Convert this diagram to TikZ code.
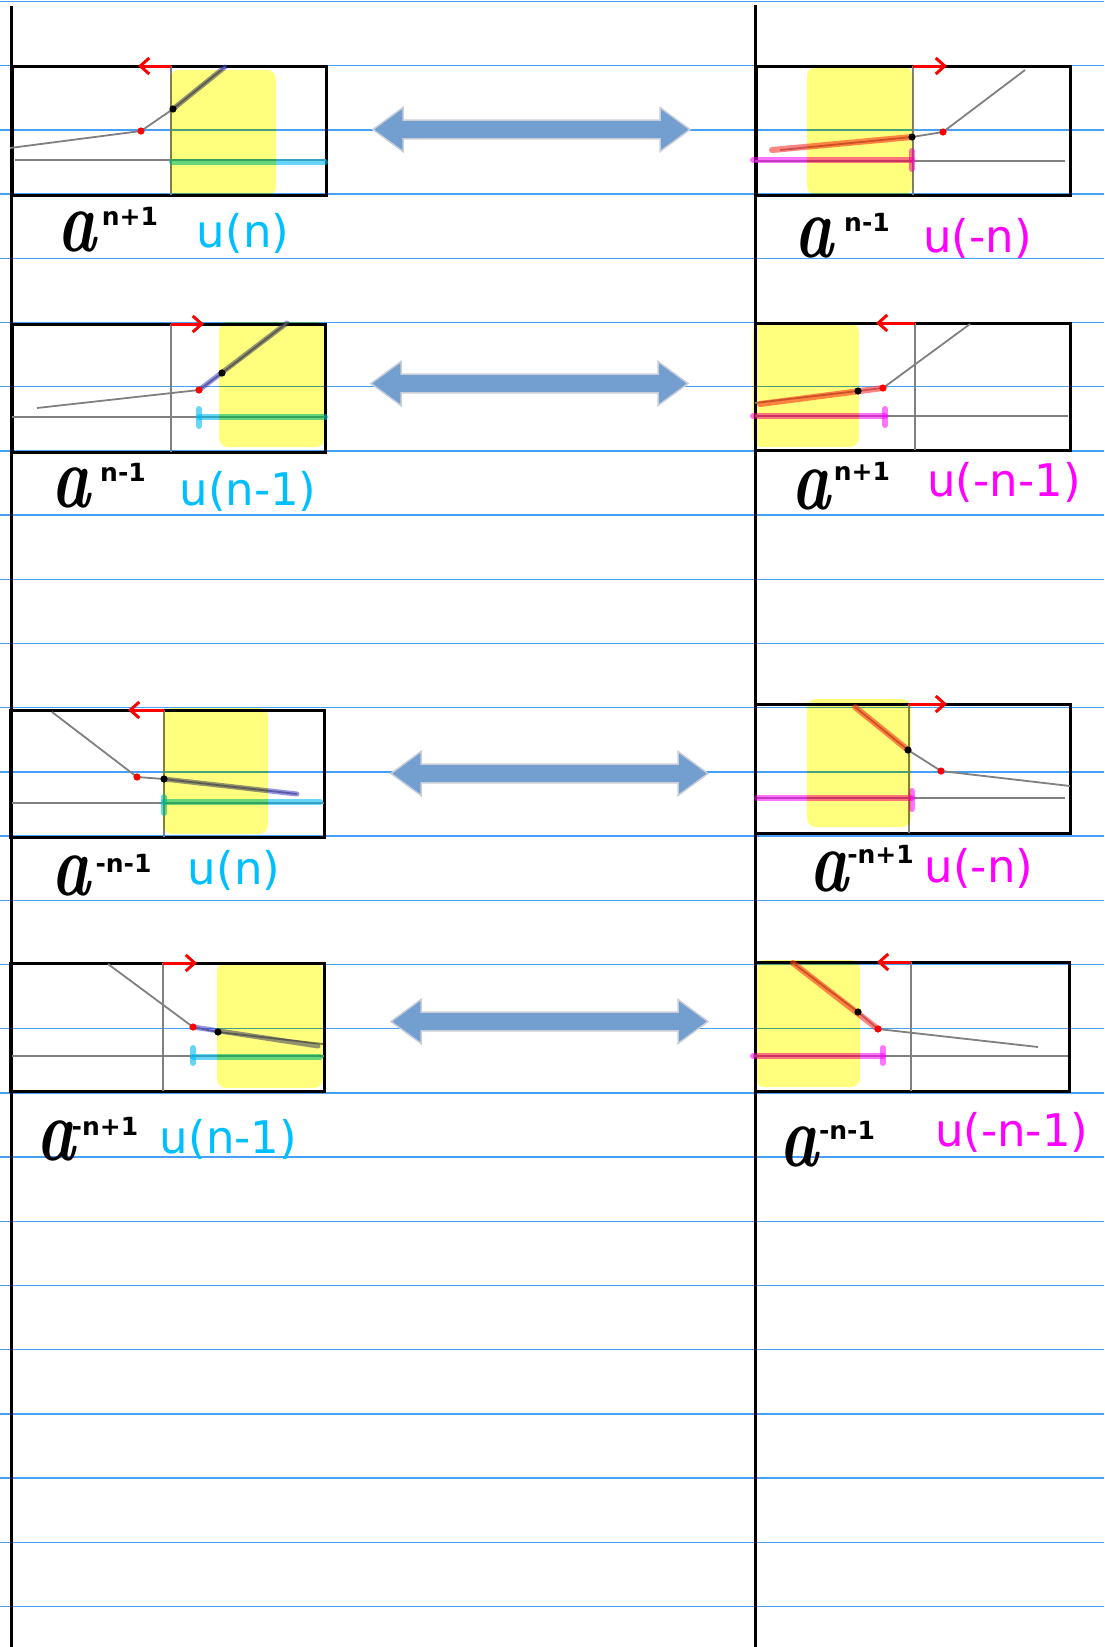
\documentclass[tikz,border=0pt]{standalone}
\usepackage{fontspec}
\usetikzlibrary{arrows.meta}
\newfontfamily\dejavu{DejaVu Sans}
\definecolor{ruleblue}{RGB}{70,160,245}
\definecolor{labcyan}{RGB}{0,191,255}
\definecolor{labmag}{RGB}{255,0,255}
\definecolor{arrowfill}{RGB}{114,159,207}
\definecolor{arrowedge}{RGB}{200,205,215}
\definecolor{hlyellow}{RGB}{255,255,125}
\definecolor{axisgray}{RGB}{128,128,128}
\definecolor{hlbluec}{RGB}{60,60,200}
\definecolor{hlredc}{RGB}{255,50,50}
\definecolor{hlcyanc}{RGB}{0,185,240}
\tikzset{
  ruleline/.style={ruleblue,line width=1.3},
  pageline/.style={black,line width=3},
  panelbox/.style={draw=black,line width=3},
  axisline/.style={axisgray,line width=1.8},
  curveline/.style={axisgray,line width=1.8},
  hlblue/.style={hlbluec,opacity=0.55,line width=5,line cap=round},
  hlred/.style={hlredc,opacity=0.6,line width=6,line cap=round},
  hlcyan/.style={hlcyanc,opacity=0.6,line width=6,line cap=round},
  hlmag/.style={labmag,opacity=0.55,line width=6,line cap=round},
  reddot/.style={fill=red},
  blackdot/.style={fill=black},
  redarrow/.style={red,line width=3,-{Straight Barb[length=9,width=16,line width=3]}},
  yellowhl/.style={fill=hlyellow,rounded corners=9},
  arrowbody/.style={fill=arrowfill,draw=arrowedge,line width=1.5,line join=miter},
  dblarrow/.pic={\path[arrowbody] (0,0) -- (30,-22) -- (30,-9.3) -- (287,-9.3) -- (287,-22) -- (317,0) -- (287,22) -- (287,9.3) -- (30,9.3) -- (30,22) -- cycle;},
  alabel/.style={inner sep=0,text=black,font=\fontsize{88}{88}\selectfont\bfseries\itshape},
  suplabel/.style={inner sep=0,text=black,font=\dejavu\bfseries\fontsize{25}{25}\selectfont},
  ucyan/.style={inner sep=0,text=labcyan,font=\dejavu\fontsize{45}{54}\selectfont},
  umag/.style={inner sep=0,text=labmag,font=\dejavu\fontsize{45}{54}\selectfont}
}
\begin{document}
\begin{tikzpicture}[x=1pt,y=-1pt]
\useasboundingbox (0,0) rectangle (1104,1647);
\fill[white] (0,0) rectangle (1104,1647);
% ruled paper
\foreach \k in {0,...,25} \draw[ruleline] (0,{1.5+64.2*\k}) -- (1104,{1.5+64.2*\k});
\draw[pageline] (11.5,6) -- (11.5,1647);
\draw[pageline] (755,5) -- (755,1647);

% ---------- panel boxes
\draw[panelbox] (12,66) rectangle (326,195);
\draw[panelbox] (756,66) rectangle (1070,195);
\draw[panelbox] (12,324) rectangle (325,452);
\draw[panelbox] (755,323) rectangle (1070,450);
\draw[panelbox] (10,710) rectangle (324,837);
\draw[panelbox] (755,704) rectangle (1070,833);
\draw[panelbox] (10,963) rectangle (324,1091);
\draw[panelbox] (755,962) rectangle (1069,1091);

% ---------- panel 1
\draw[axisline] (171,66) -- (171,195);
\draw[axisline] (15,160) -- (326,160);
\coordinate (p1s) at (10,148); \coordinate (p1r) at (141,131);
\coordinate (p1b) at (173,109); \coordinate (p1e) at (225,67);
\draw[curveline] (p1s) -- (p1r) -- (p1b) -- (p1e);
\draw[hlblue] (p1b) -- (p1e);
\draw[hlcyan] (172,162) -- (325,162);
\fill[reddot] (p1r) circle (3.6); \fill[blackdot] (p1b) circle (3.6);
\draw[redarrow] (171,66) -- (138,66);

% ---------- panel 2
\draw[axisline] (913,66) -- (913,195);
\draw[axisline] (755,161) -- (1065,161);
\coordinate (p2s) at (780,150); \coordinate (p2b) at (912,137);
\coordinate (p2r) at (943,132); \coordinate (p2e) at (1025,70);
\draw[curveline] (p2s) -- (p2b) -- (p2r) -- (p2e);
\draw[hlred] (772,150) -- (p2b);
\draw[hlmag] (753,160) -- (912,160); \draw[hlmag] (912,151) -- (912,169);
\fill[blackdot] (p2b) circle (3.6); \fill[reddot] (p2r) circle (3.6);
\draw[redarrow] (913,66) -- (947,66);

% ---------- panel 3
\draw[axisline] (171,324) -- (171,452);
\draw[axisline] (12,417) -- (325,417);
\coordinate (p3s) at (37,408); \coordinate (p3r) at (199,390);
\coordinate (p3b) at (222,373); \coordinate (p3e) at (287,323);
\draw[curveline] (p3s) -- (p3r) -- (p3b) -- (p3e);
\draw[hlblue] (p3r) -- (p3e);
\draw[hlcyan] (199,417) -- (325,417); \draw[hlcyan] (199,409) -- (199,426);
\fill[reddot] (p3r) circle (3.6); \fill[blackdot] (p3b) circle (3.6);
\draw[redarrow] (171,324) -- (204,324);

% ---------- panel 4
\draw[axisline] (915,323) -- (915,450);
\draw[axisline] (755,416) -- (1068,416);
\coordinate (p4s) at (755,403); \coordinate (p4b) at (858,391);
\coordinate (p4r) at (883,388); \coordinate (p4e) at (970,324);
\draw[curveline] (p4s) -- (p4b) -- (p4r) -- (p4e);
\draw[hlred] (760,404) -- (p4r);
\draw[hlmag] (753,416) -- (885,416); \draw[hlmag] (885,409) -- (885,425);
\fill[blackdot] (p4b) circle (3.6); \fill[reddot] (p4r) circle (3.6);
\draw[redarrow] (915,323) -- (876,323);

% ---------- panel 5
\draw[axisline] (164,710) -- (164,837);
\draw[axisline] (12,803) -- (324,803);
\coordinate (p5s) at (52,712); \coordinate (p5r) at (137,777);
\coordinate (p5b) at (164,779); \coordinate (p5e) at (297,794);
\draw[curveline] (p5s) -- (p5r) -- (p5b) -- (p5e);
\draw[hlblue] (p5b) -- (p5e);
\draw[hlcyan] (164,802) -- (320,802); \draw[hlcyan] (164,797) -- (164,813);
\fill[reddot] (p5r) circle (3.6); \fill[blackdot] (p5b) circle (3.6);
\draw[redarrow] (164,710) -- (128,710);

% ---------- panel 6
\draw[axisline] (909,704) -- (909,833);
\draw[axisline] (757,798) -- (1065,798);
\coordinate (p6s) at (855,707); \coordinate (p6b) at (908,750);
\coordinate (p6r) at (941,771); \coordinate (p6e) at (1070,786);
\draw[curveline] (p6s) -- (p6b) -- (p6r) -- (p6e);
\draw[hlred] (p6s) -- (p6b);
\draw[hlmag] (757,798) -- (912,798); \draw[hlmag] (912,791) -- (912,809);
\fill[blackdot] (p6b) circle (3.6); \fill[reddot] (p6r) circle (3.6);
\draw[redarrow] (909,704) -- (947,704);

% ---------- panel 7
\draw[axisline] (163,963) -- (163,1091);
\draw[axisline] (12,1056) -- (324,1056);
\coordinate (p7s) at (108,964); \coordinate (p7r) at (193,1027);
\coordinate (p7b) at (218,1032); \coordinate (p7e) at (323,1044);
\draw[curveline] (p7s) -- (p7r) -- (p7b) -- (p7e);
\draw[hlblue] (p7r) -- (318,1046);
\draw[hlcyan] (193,1057) -- (320,1057); \draw[hlcyan] (193,1048) -- (193,1063);
\fill[reddot] (p7r) circle (3.6); \fill[blackdot] (p7b) circle (3.6);
\draw[redarrow] (163,963) -- (197,963);

% ---------- panel 8
\draw[axisline] (911,962) -- (911,1091);
\draw[axisline] (753,1056) -- (1068,1056);
\coordinate (p8s) at (793,963); \coordinate (p8b) at (858,1012);
\coordinate (p8r) at (878,1029); \coordinate (p8e) at (1038,1047);
\draw[curveline] (p8s) -- (p8b) -- (p8r) -- (p8e);
\draw[hlred] (p8s) -- (p8r);
\draw[hlmag] (753,1056) -- (883,1056); \draw[hlmag] (883,1048) -- (883,1063);
\fill[blackdot] (p8b) circle (3.6); \fill[reddot] (p8r) circle (3.6);
\draw[redarrow] (911,962) -- (877,962);

% ---------- yellow highlighter (multiply)
\begin{scope}[blend mode=multiply]
\fill[yellowhl] (170,70) rectangle (276,196);
\fill[yellowhl] (807,67) rectangle (913,195);
\fill[yellowhl] (219,322) rectangle (325,447);
\fill[yellowhl] (753,323) rectangle (859,447);
\fill[yellowhl] (163,708) rectangle (268,834);
\fill[yellowhl] (807,699) rectangle (911,827);
\fill[yellowhl] (217,962) rectangle (323,1088);
\fill[yellowhl] (755,960) rectangle (860,1087);
\end{scope}

% ---------- block double arrows
\pic at (373,129.5) {dblarrow};
\pic at (371,383.5) {dblarrow};
\pic at (391,773.5) {dblarrow};
\pic at (391,1021.5) {dblarrow};

% ---------- labels
\node[alabel] (a1) at (77.5,231.5) {\scalebox{0.75}[1]{a}};
\node[suplabel] (s1) at (130,216.5) {n+1};
\node[ucyan] (u1) at (243,233.5) {u(n)};

\node[alabel] (a2) at (813.5,238) {\scalebox{0.75}[1]{a}};
\node[suplabel] (s2) at (867,222.5) {n-1};
\node[umag] (u2) at (977.5,238) {u(-n)};

\node[alabel] (a3) at (71.5,487.5) {\scalebox{0.75}[1]{a}};
\node[suplabel] (s3) at (123,472.5) {n-1};
\node[ucyan] (u3) at (248,491.5) {u(n-1)};

\node[alabel] (a4) at (811,490) {\scalebox{0.75}[1]{a}};
\node[suplabel] (s4) at (862,471.5) {n+1};
\node[umag] (u4) at (1004,482.5) {u(-n-1)};

\node[alabel] (a5) at (71,876) {\scalebox{0.75}[1]{a}};
\node[suplabel] (s5) at (123.5,863.5) {-n-1};
\node[ucyan] (u5) at (234,870.5) {u(n)};

\node[alabel] (a6) at (829,871.5) {\scalebox{0.75}[1]{a}};
\node[suplabel] (s6) at (880.5,854.5) {-n+1};
\node[umag] (u6) at (979,868) {u(-n)};

\node[alabel] (a7) at (56.5,1141) {\scalebox{0.75}[1]{a}};
\node[suplabel] (s7) at (105,1126.5) {-n+1};
\node[ucyan] (u7) at (228.5,1139) {u(n-1)};

\node[alabel] (a8) at (799,1146.7) {\scalebox{0.75}[1]{a}};
\node[suplabel] (s8) at (847,1130.5) {-n-1};
\node[umag] (u8) at (1011.7,1132.5) {u(-n-1)};
\end{tikzpicture}
\end{document}
